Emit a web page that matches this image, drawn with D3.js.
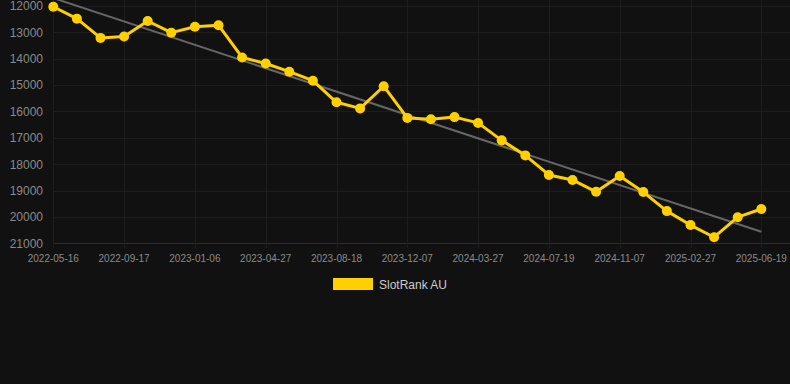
<!DOCTYPE html>
<html>
<head>
<meta charset="utf-8">
<script src="https://cdn.jsdelivr.net/npm/d3@7"></script>
<style>
  body { margin: 0; background: #111111; }
  svg { display: block; font-family: "Liberation Sans", Arial, sans-serif; }
</style>
</head>
<body>
<script>
// Data
const dates = [
  "2022-05-16", "", "", "2022-09-17", "", "", "2023-01-06", "", "", "2023-04-27", "", "",
  "2023-08-18", "", "", "2023-12-07", "", "", "2024-03-27", "", "", "2024-07-19", "", "",
  "2024-11-07", "", "", "2025-02-27", "", "", "2025-06-19"
];
const ranks = [
  12040, 12490, 13220, 13170, 12580, 13020, 12800, 12740, 13960, 14190, 14500, 14840,
  15660, 15890, 15050, 16250, 16300, 16220, 16440, 17100, 17670, 18410, 18600, 19050,
  18450, 19060, 19780, 20310, 20770, 20010, 19700
];
const yTicks = [12000, 13000, 14000, 15000, 16000, 17000, 18000, 19000, 20000, 21000];
const seriesName = "SlotRank AU";

// Dimensions
const width = 790, height = 384;
const plot = { left: 53, right: 790, top: 6, bottom: 243 };
const lastX = 761.3;

const svg = d3.select("body")
  .append("svg")
  .attr("width", width)
  .attr("height", height);

svg.append("rect")
  .attr("width", width)
  .attr("height", height)
  .attr("fill", "#111111");

const xScale = d3.scaleLinear()
  .domain([0, ranks.length - 1])
  .range([plot.left + 0.3, lastX]);

const yScale = d3.scaleLinear()
  .domain([12000, 21000])
  .range([plot.top - 0.3, plot.bottom + 0.3]);

// Grid
svg.append("g")
  .selectAll("line")
  .data(yTicks)
  .join("line")
  .attr("x1", plot.left)
  .attr("x2", plot.right)
  .attr("y1", d => Math.round(yScale(d)) + 0.5)
  .attr("y2", d => Math.round(yScale(d)) + 0.5)
  .attr("stroke", d => d === 21000 ? "#2c2c2c" : "#1d1d1d")
  .attr("stroke-width", 1);

const labelIdx = d3.range(ranks.length).filter(i => dates[i] !== "");

svg.append("g")
  .selectAll("line")
  .data(labelIdx)
  .join("line")
  .attr("x1", i => Math.round(xScale(i)) + 0.5)
  .attr("x2", i => Math.round(xScale(i)) + 0.5)
  .attr("y1", 0)
  .attr("y2", plot.bottom + 5)
  .attr("stroke", "#1d1d1d")
  .attr("stroke-width", 1);

// Y axis labels
svg.append("g")
  .selectAll("text")
  .data(yTicks)
  .join("text")
  .attr("x", 43)
  .attr("y", d => yScale(d) + 4.5)
  .attr("text-anchor", "end")
  .attr("fill", "#8a8a8a")
  .attr("font-size", 12)
  .text(d => d);

// X axis labels
svg.append("g")
  .selectAll("text")
  .data(labelIdx)
  .join("text")
  .attr("x", i => xScale(i))
  .attr("y", 262)
  .attr("text-anchor", "middle")
  .attr("fill", "#8a8a8a")
  .attr("font-size", 10)
  .text(i => dates[i]);

// Trend line (least squares)
const n = ranks.length;
const mx = d3.mean(d3.range(n));
const my = d3.mean(ranks);
const slope = d3.sum(ranks, (v, i) => (i - mx) * (v - my)) / d3.sum(d3.range(n), i => (i - mx) ** 2);
const trend = [0, n - 1].map(i => [i, my + slope * (i - mx)]);

svg.append("line")
  .attr("x1", xScale(trend[0][0]))
  .attr("y1", yScale(trend[0][1]))
  .attr("x2", xScale(trend[1][0]))
  .attr("y2", yScale(trend[1][1]))
  .attr("stroke", "#666666")
  .attr("stroke-width", 2);

// Series line
const line = d3.line()
  .x((d, i) => xScale(i))
  .y(d => yScale(d));

svg.append("path")
  .datum(ranks)
  .attr("d", line)
  .attr("fill", "none")
  .attr("stroke", "#ffd000")
  .attr("stroke-width", 3)
  .attr("stroke-linejoin", "round");

svg.append("g")
  .selectAll("circle")
  .data(ranks)
  .join("circle")
  .attr("cx", (d, i) => xScale(i))
  .attr("cy", d => yScale(d))
  .attr("r", 5)
  .attr("fill", "#ffd000");

// Legend
const legend = svg.append("g").attr("transform", "translate(333,278)");
legend.append("rect")
  .attr("width", 40)
  .attr("height", 12)
  .attr("fill", "#ffd000");
legend.append("text")
  .attr("x", 46)
  .attr("y", 10.5)
  .attr("fill", "#cccccc")
  .attr("font-size", 12)
  .text(seriesName);
</script>
</body>
</html>
